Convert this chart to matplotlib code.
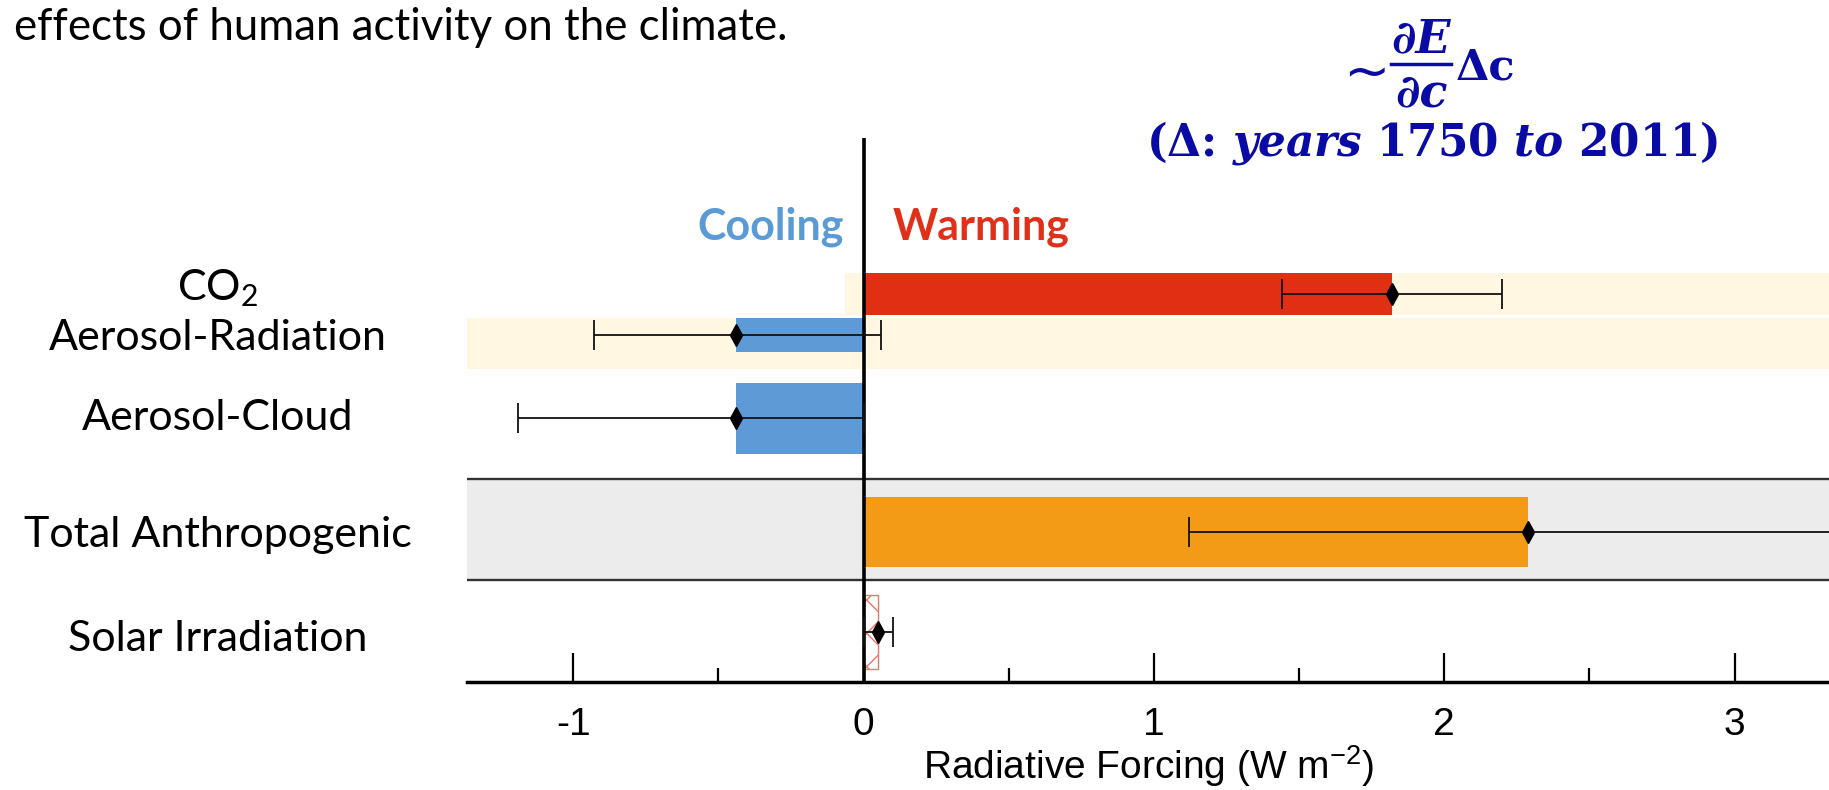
import matplotlib
matplotlib.use("Agg")
import matplotlib.pyplot as plt
from matplotlib.patches import Rectangle
from matplotlib.lines import Line2D
from matplotlib.transforms import blended_transform_factory

# ---- data: radiative forcing 1750-2011 (W m-2) ----
categories = ["CO$_\\mathsf{2}$", "Aerosol-Radiation", "Aerosol-Cloud",
              "Total Anthropogenic", "Solar Irradiation"]
forcing = [1.82, -0.44, -0.44, 2.29, 0.05]
forcing_low = [1.44, -0.93, -1.19, 1.12, 0.00]
forcing_high = [2.20, 0.06, 0.00, 3.33, 0.10]
tick_values = [-1, 0, 1, 2, 3]
tick_labels = ["-1", "0", "1", "2", "3"]

# ---- styling / layout ----
bar_colors = ["#e12f13", "#5e9bd6", "#5e9bd6", "#f39a17", "white"]
row_y = [7.13, 6.38, 4.85, 2.76, 0.92]
bar_h = [0.77, 0.64, 1.30, 1.28, 1.37]
label_y = [7.24, 6.32, 4.86, 2.70, 0.79]
cream = "#fff7e1"
grey = "#ececec"
formula_blue = "#0a0aa5"
serif = ["DejaVu Serif"]
sans = ["Lato", "DejaVu Sans"]
axis_font = ["Liberation Sans", "DejaVu Sans"]

plt.rcParams["mathtext.fontset"] = "custom"
plt.rcParams["mathtext.rm"] = "DejaVu Serif:bold"
plt.rcParams["mathtext.bf"] = "DejaVu Serif:bold"
plt.rcParams["mathtext.it"] = "DejaVu Serif:italic:bold"
plt.rcParams["mathtext.sf"] = "Lato"
plt.rcParams["mathtext.tt"] = "Liberation Sans"

W, H = 1829, 790
fig = plt.figure(figsize=(W / 100, H / 100), dpi=100)
ax = fig.add_axes([467 / W, 1 - 682 / H, (W - 467) / W, (682 - 138) / H])

x0, x1 = -1.366, 3.325
ax.set_xlim(x0, x1)
ax.set_ylim(0, 10)

# highlighted rows
ax.add_patch(Rectangle((-0.064, 6.75), x1 + 0.064, 0.77, color=cream, zorder=0, lw=0))
ax.add_patch(Rectangle((x0, 5.76), x1 - x0, 0.94, color=cream, zorder=0, lw=0))
ax.add_patch(Rectangle((x0, 1.88), x1 - x0, 1.85, color=grey, zorder=0, lw=0))
ax.axhline(3.73, color="#333333", lw=1.7, zorder=1)
ax.axhline(1.88, color="#333333", lw=1.7, zorder=1)

# bars
for i, (v, c) in enumerate(zip(forcing, bar_colors)):
    if i == len(forcing) - 1:
        ax.barh(row_y[i], v, height=bar_h[i], left=0, color="white",
                edgecolor="#e8776c", hatch="x", lw=1.0, zorder=2)
    else:
        ax.barh(row_y[i], v, height=bar_h[i], left=0, color=c, lw=0, zorder=2)

# zero line
ax.axvline(0, color="black", lw=2.6, zorder=3)

# uncertainty ranges
for i, v in enumerate(forcing):
    ax.errorbar(v, row_y[i],
                xerr=[[v - forcing_low[i]], [forcing_high[i] - v]],
                fmt="none", ecolor="#111111", elinewidth=1.3, capsize=11,
                capthick=1.3, zorder=4)
    ax.plot(v, row_y[i], marker="d", ms=11, color="black", zorder=5)

# axes styling
for s in ("left", "right", "top"):
    ax.spines[s].set_visible(False)
ax.spines["bottom"].set_linewidth(2.5)
ax.set_yticks([])
ax.set_xticks(tick_values)
ax.set_xticklabels(tick_labels, fontsize=28, family=axis_font)
ax.set_xticks([-0.5, 0.5, 1.5, 2.5], minor=True)
ax.tick_params(axis="x", which="major", direction="in", length=21, width=1.6, pad=18)
ax.tick_params(axis="x", which="minor", direction="in", length=10, width=1.6)
ax.set_xlabel("Radiative Forcing (W m$^{\\mathtt{-2}}$)", fontsize=28,
              family=axis_font, labelpad=1)
ax.patch.set_alpha(0)

# category labels
tr = blended_transform_factory(fig.transFigure, ax.transData)
for name, y in zip(categories, label_y):
    ax.text(218 / W, y, name, transform=tr, ha="center", va="center",
            fontsize=31, family=sans)

# direction labels
ax.text(-0.07, 8.14, "Cooling", ha="right", va="baseline", fontsize=31,
        fontweight="bold", color="#5b9bd5", family=sans)
ax.text(0.10, 8.14, "Warming", ha="left", va="baseline", fontsize=31,
        fontweight="bold", color="#e1301a", family=sans)

# heading
fig.text(14 / W, 1 - 40 / H, "effects of human activity on the climate.",
         ha="left", va="baseline", fontsize=31.5, family=sans)

# forcing ~ dE/dc * delta c
fig.text(1366 / W, 1 - 68 / H, "~", ha="center", va="center_baseline",
         fontsize=40, family=["DejaVu Sans"], color=formula_blue)
fig.text(1421 / W, 1 - 52 / H, "∂E", ha="center", va="baseline", fontsize=33,
         family=serif, fontweight="bold", fontstyle="italic", color=formula_blue)
fig.add_artist(Line2D([1391 / W, 1451 / W], [1 - 64 / H, 1 - 64 / H],
                      transform=fig.transFigure, lw=2.5, color=formula_blue))
fig.text(1421 / W, 1 - 106 / H, "∂c", ha="center", va="baseline", fontsize=33,
         family=serif, fontweight="bold", fontstyle="italic", color=formula_blue)
fig.text(1456 / W, 1 - 79 / H, "Δc", ha="left", va="baseline", fontsize=31,
         family=serif, fontweight="bold", color=formula_blue)
fig.text(1432 / W, 1 - 143 / H,
         r"(Δ: $\mathit{years}$ 1750 $\mathit{to}$ 2011)",
         ha="center", va="center", fontsize=31.5, family=serif,
         fontweight="bold", color=formula_blue)

fig.savefig("out.png", dpi=100)
